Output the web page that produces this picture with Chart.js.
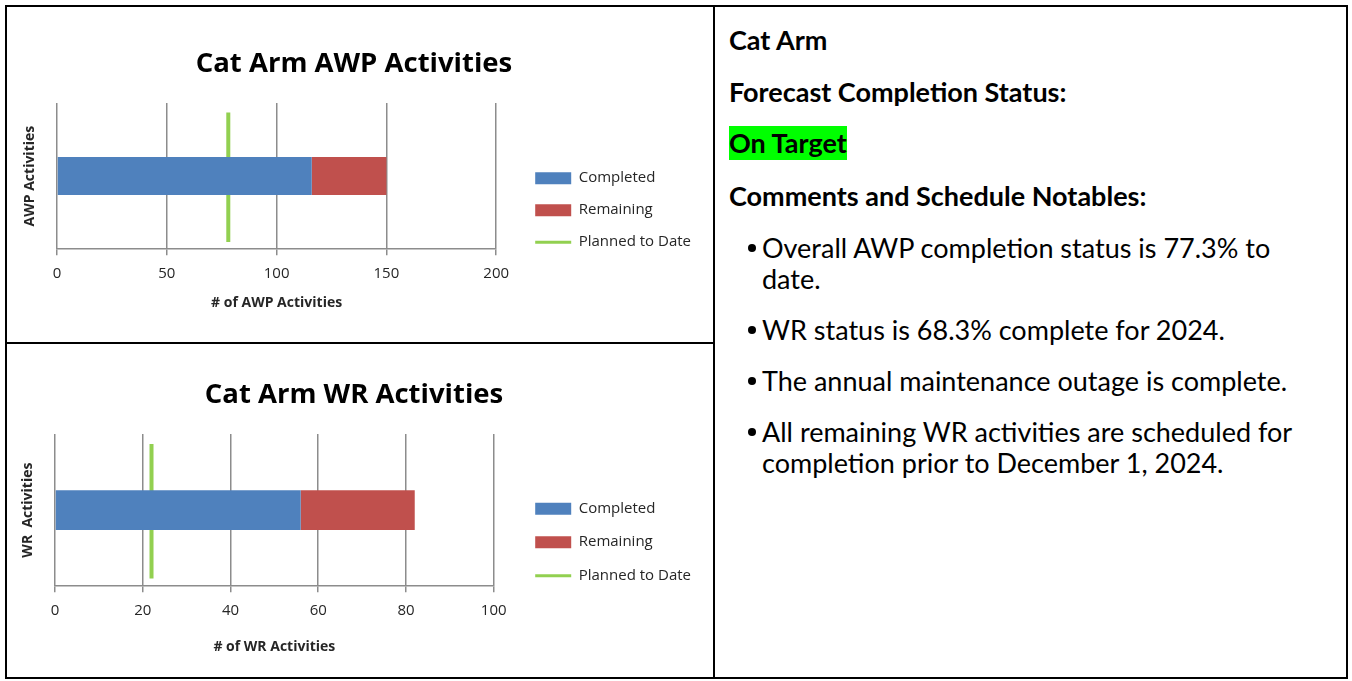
<!DOCTYPE html>
<html>
<head>
<meta charset="utf-8">
<script src="https://cdn.jsdelivr.net/npm/chart.js@4.4.1/dist/chart.umd.min.js"></script>
<style>
  html, body { margin: 0; padding: 0; background: #fff; }
  body { width: 1352px; height: 681px; position: relative; overflow: hidden; font-family: Lato, "Open Sans", sans-serif; color: #000; }
  .frame { position: absolute; left: 5px; top: 5px; width: 1343px; height: 674px; border: 2px solid #000; box-sizing: border-box; }
  .vline { position: absolute; left: 713px; top: 5px; width: 2px; height: 674px; background: #000; }
  .hline { position: absolute; left: 5px; top: 342px; width: 710px; height: 2px; background: #000; }
  .chart { position: absolute; left: 7px; width: 706px; }
  #awpBox { top: 7px; height: 335px; }
  #wrBox { top: 344px; height: 333px; }
  #notes { position: absolute; left: 729px; top: 24px; width: 610px; font-size: 27px; line-height: 31px; }
  #notes p { margin: 0 0 21px 0; white-space: nowrap; font-weight: bold; }
  #notes p.tgt { line-height: 34px; margin: -2px 0 20px 0; }
  #notes .hl { display: inline-block; background: #00ff00; }
  #notes ul { list-style: none; margin: 0; padding: 0 0 0 33px; }
  #notes li { position: relative; margin: 0 0 20px 0; white-space: nowrap; }
  #notes li::before { content: ''; position: absolute; left: -14px; top: 12px; width: 8px; height: 8px; border-radius: 50%; background: #000; }
</style>
</head>
<body>
<div class="frame"></div>
<div class="vline"></div>
<div class="hline"></div>
<div class="chart" id="awpBox"><canvas id="awpChart"></canvas></div>
<div class="chart" id="wrBox"><canvas id="wrChart"></canvas></div>

<div id="notes">
  <p>Cat Arm</p>
  <p>Forecast Completion Status:</p>
  <p class="tgt"><span class="hl">On Target</span></p>
  <p>Comments and Schedule Notables:</p>
  <ul>
    <li>Overall AWP completion status is 77.3% to<br>date.</li>
    <li>WR status is 68.3% complete for 2024.</li>
    <li>The annual maintenance outage is complete.</li>
    <li>All remaining WR activities are scheduled for<br>completion prior to December 1, 2024.</li>
  </ul>
</div>

<script>
// series names shared by both charts
const seriesNames = ['Completed', 'Remaining', 'Planned to Date'];

// AWP chart data
const awpLabels = ['AWP Activities'];
const awpCompleted = [116];
const awpRemaining = [34];
const awpPlanned = [78];
const awpTicks = [0, 50, 100, 150, 200];

// WR chart data
const wrLabels = ['WR Activities'];
const wrCompleted = [56];
const wrRemaining = [26];
const wrPlanned = [22];
const wrTicks = [0, 20, 40, 60, 80, 100];

const colors = {
  completed: '#4F81BD',
  remaining: '#C0504D',
  planned: '#92D050',
  grid: '#8C8C8C',
  text: '#262626'
};

Chart.defaults.font.family = '"Open Sans", Lato, sans-serif';
Chart.defaults.color = colors.text;

// planned-to-date marker spans most of the plot height (0..1 on a hidden axis)
const lineSpan = [0.05, 0.935];

function buildChart(canvasId, s) {
  return new Chart(document.getElementById(canvasId), {
    type: 'bar',
    data: {
      labels: s.labels,
      datasets: [
        {
          label: seriesNames[0],
          data: s.completed,
          backgroundColor: colors.completed,
          pointStyle: 'rect',
          stack: 'total',
          grouped: false,
          barPercentage: 0.26,
          categoryPercentage: 1
        },
        {
          label: seriesNames[1],
          data: s.remaining,
          backgroundColor: colors.remaining,
          pointStyle: 'rect',
          stack: 'total',
          grouped: false,
          barPercentage: 0.26,
          categoryPercentage: 1
        },
        {
          type: 'line',
          label: seriesNames[2],
          data: s.planned.flatMap(v => lineSpan.map(t => ({ x: v, y: t }))),
          yAxisID: 'y2',
          borderColor: colors.planned,
          backgroundColor: colors.planned,
          borderWidth: 4,
          pointRadius: 0,
          pointHoverRadius: 0,
          pointStyle: 'line',
          pointBorderWidth: 3,
          pointBorderColor: colors.planned,
          fill: false
        }
      ]
    },
    options: {
      indexAxis: 'y',
      responsive: true,
      maintainAspectRatio: false,
      animation: false,
      layout: { padding: { left: 0, top: 0, right: s.padRight, bottom: s.padBottom } },
      plugins: {
        title: {
          display: true,
          text: s.title,
          color: '#000',
          font: { size: 27.5, weight: 'bold' },
          padding: { top: s.titleTop, bottom: s.titleBottom }
        },
        legend: {
          position: 'right',
          maxWidth: 240,
          title: { display: true, text: '', font: { size: 12 }, padding: { top: s.legendShift, bottom: 0 } },
          labels: {
            usePointStyle: true,
            pointStyleWidth: 36,
            boxWidth: 36,
            boxHeight: 12,
            padding: s.legendGap,
            color: colors.text,
            font: { size: 15 }
          }
        },
        tooltip: { enabled: false }
      },
      scales: {
        x: {
          type: 'linear',
          stacked: true,
          min: s.ticks[0],
          max: s.ticks[s.ticks.length - 1],
          afterBuildTicks: sc => { sc.ticks = s.ticks.map(v => ({ value: v })); },
          grid: { color: colors.grid, lineWidth: 1.5, tickLength: 6 },
          border: { color: colors.grid, width: 1.5 },
          ticks: { color: colors.text, font: { size: 15 }, padding: s.tickPad, maxRotation: 0 },
          title: {
            display: true,
            text: s.xTitle,
            color: colors.text,
            font: { size: 14, weight: 'bold' },
            padding: { top: s.xTitlePad, bottom: 0 }
          }
        },
        y: {
          type: 'category',
          stacked: true,
          offset: true,
          grid: { display: false, drawTicks: false },
          border: { display: false },
          ticks: { display: false },
          title: {
            display: true,
            text: s.yTitle,
            color: colors.text,
            font: { size: 14, weight: 'bold' },
            padding: { top: s.yTitlePad, bottom: 0 }
          },
          afterFit: sc => { sc.width = s.yWidth; }
        },
        y2: {
          type: 'linear',
          position: 'right',
          offset: false,
          min: 0,
          max: 1,
          grid: { display: false, drawTicks: false, offset: false },
          border: { display: false },
          ticks: { display: false },
          afterFit: sc => { sc.width = s.y2Width; }
        }
      }
    }
  });
}

buildChart('awpChart', {
  labels: awpLabels,
  completed: awpCompleted,
  remaining: awpRemaining,
  planned: awpPlanned,
  ticks: awpTicks,
  title: 'Cat Arm AWP Activities',
  xTitle: '# of AWP Activities',
  yTitle: 'AWP Activities',
  titleTop: 41,
  titleBottom: 22,
  padRight: 12,
  padBottom: 31,
  tickPad: 10,
  xTitlePad: 1,
  yTitlePad: 15,
  yWidth: 50,
  y2Width: 22,
  legendGap: 17,
  legendShift: 88
});

buildChart('wrChart', {
  labels: wrLabels,
  completed: wrCompleted,
  remaining: wrRemaining,
  planned: wrPlanned,
  ticks: wrTicks,
  title: 'Cat Arm WR Activities',
  xTitle: '# of WR Activities',
  yTitle: 'WR  Activities',
  titleTop: 35,
  titleBottom: 22,
  padRight: 12,
  padBottom: 22,
  tickPad: 10,
  xTitlePad: 8,
  yTitlePad: 13,
  yWidth: 48,
  y2Width: 23,
  legendGap: 18.5,
  legendShift: 71
});
</script>
</body>
</html>
